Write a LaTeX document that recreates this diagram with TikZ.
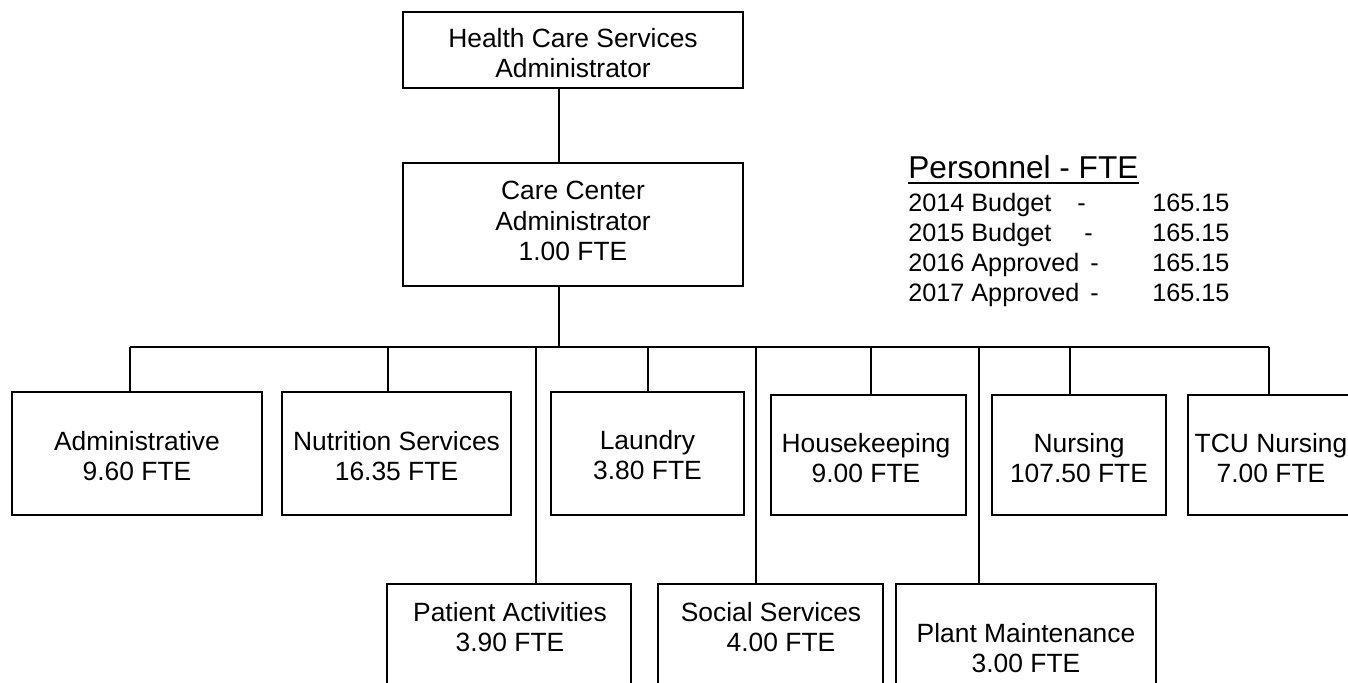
\documentclass[tikz,border=0pt]{standalone}
\usepackage{fontspec}
\setmainfont{Liberation Sans}
\begin{document}
\begin{tikzpicture}[x=0.5pt,y=-0.5pt,
  unit/.style={draw, line width=1pt, rectangle, inner sep=0pt},
  lbl/.style={align=center, inner sep=0pt, font=\fontsize{13.2}{15.2}\selectfont},
  wire/.style={line width=1pt},
  legtitle/.style={inner sep=0pt, anchor=base west, font=\fontsize{15.8}{18}\selectfont},
  leg/.style={inner sep=0pt, anchor=base west, font=\fontsize{12.6}{15}\selectfont}]
\path[use as bounding box, clip] (0,0) rectangle (1348,682);
\fill[white] (0,0) rectangle (1348,682);

% top of the chart
\node[unit, minimum width=170pt, minimum height=38pt] (hcsa) at (573,50) {};
\node[lbl] (hcsaT) at (573,53) {Health Care Services\\Administrator};
\node[unit, minimum width=170pt, minimum height=61.5pt] (cca) at (573,224.5) {};
\node[lbl] (ccaT) at (573,221) {Care Center\\Administrator\\1.00 FTE};

% first row of units
\node[unit, minimum width=125pt, minimum height=61.5pt] (adm) at (137,453.5) {};
\node[lbl] (admT) at (137,456) {Administrative\\9.60 FTE};
\node[unit, minimum width=114.5pt, minimum height=61.5pt] (nut) at (396.5,453.5) {};
\node[lbl] (nutT) at (396.5,456) {Nutrition Services\\16.35 FTE};
\node[unit, minimum width=96.5pt, minimum height=61.5pt] (lau) at (647.5,453.5) {};
\node[lbl] (lauT) at (647.5,455) {Laundry\\3.80 FTE};
\node[unit, minimum width=97.5pt, minimum height=60pt] (hk) at (868.5,455) {};
\node[lbl] (hkT) at (866,458) {Housekeeping\\9.00 FTE};
\node[unit, minimum width=87pt, minimum height=60pt] (nur) at (1079,455) {};
\node[lbl] (nurT) at (1079,458) {Nursing\\107.50 FTE};
\node[unit, minimum width=82.5pt, minimum height=60pt] (tcu) at (1270.5,455) {};
\node[lbl] (tcuT) at (1271,458) {TCU Nursing\\7.00 FTE};

% second row of units
\node[unit, minimum width=122pt, minimum height=68pt] (pa) at (509,652) {};
\node[lbl] (paT) at (510,627) {Patient Activities\\3.90 FTE};
\node[unit, minimum width=112.5pt, minimum height=68pt] (ss) at (770.5,652) {};
\node[lbl] (ssT) at (771,627) {Social Services\\\hspace*{10pt}4.00 FTE};
\node[unit, minimum width=130pt, minimum height=68pt] (pm) at (1026,652) {};
\node[lbl] (pmT) at (1026,648) {Plant Maintenance\\3.00 FTE};

% connectors
\coordinate (trunk) at (559,347);
\coordinate (jadm) at (130,347);
\coordinate (jnut) at (388,347);
\coordinate (jpa)  at (536,347);
\coordinate (jlau) at (648,347);
\coordinate (jss)  at (756,347);
\coordinate (jhk)  at (871,347);
\coordinate (jpm)  at (979,347);
\coordinate (jnur) at (1070,347);
\coordinate (jtcu) at (1269,347);

\draw[wire] (hcsa.south -| trunk) -- (cca.north -| trunk);
\draw[wire] (cca.south -| trunk) -- (trunk);
\draw[wire] (jadm) -- (jtcu);
\draw[wire] (jadm) -- (jadm |- adm.north);
\draw[wire] (jnut) -- (jnut |- nut.north);
\draw[wire] (jpa)  -- (jpa |- pa.north);
\draw[wire] (jlau) -- (jlau |- lau.north);
\draw[wire] (jss)  -- (jss |- ss.north);
\draw[wire] (jhk)  -- (jhk |- hk.north);
\draw[wire] (jpm)  -- (jpm |- pm.north);
\draw[wire] (jnur) -- (jnur |- nur.north);
\draw[wire] (jtcu) -- (jtcu |- tcu.north);

% personnel summary
\node[legtitle] (ttl) at (908,178) {Personnel - FTE};
\draw[line width=1pt] ([yshift=-2.6pt]ttl.base west) -- ([yshift=-2.6pt]ttl.base east);
\node[leg] (y1) at (908,211) {2014 Budget};
\node[leg] (d1) at (1077,211) {-};
\node[leg] (v1) at (1152,211) {165.15};
\node[leg] (y2) at (908,241) {2015 Budget};
\node[leg] (d2) at (1084,241) {-};
\node[leg] (v2) at (1152,241) {165.15};
\node[leg] (y3) at (908,271) {2016 Approved};
\node[leg] (d3) at (1090,271) {-};
\node[leg] (v3) at (1152,271) {165.15};
\node[leg] (y4) at (908,301) {2017 Approved};
\node[leg] (d4) at (1090,301) {-};
\node[leg] (v4) at (1152,301) {165.15};
\end{tikzpicture}
\end{document}
